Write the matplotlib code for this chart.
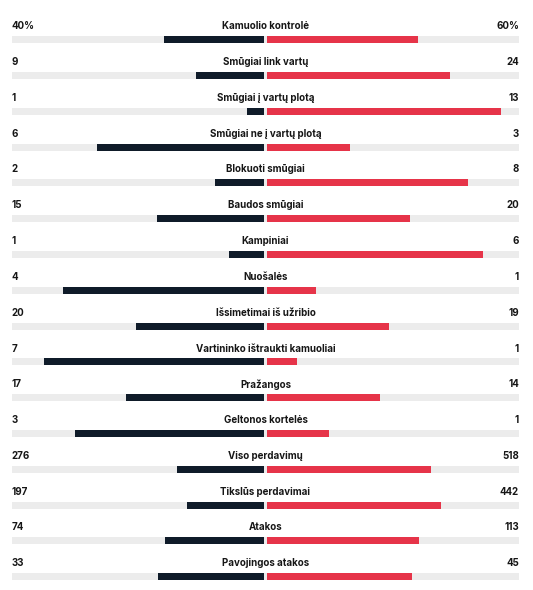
import matplotlib
matplotlib.use('Agg')
import matplotlib.pyplot as plt

labels = ['Kamuolio kontrolė', 'Smūgiai link vartų', 'Smūgiai į vartų plotą',
          'Smūgiai ne į vartų plotą', 'Blokuoti smūgiai', 'Baudos smūgiai',
          'Kampiniai', 'Nuošalės', 'Išsimetimai iš užribio',
          'Vartininko ištraukti kamuoliai', 'Pražangos', 'Geltonos kortelės',
          'Viso perdavimų', 'Tikslūs perdavimai', 'Atakos', 'Pavojingos atakos']
home = [40, 9, 1, 6, 2, 15, 1, 4, 20, 7, 17, 3, 276, 197, 74, 33]
away = [60, 24, 13, 3, 8, 20, 6, 1, 19, 1, 14, 1, 518, 442, 113, 45]
home_txt = ['40%'] + [str(v) for v in home[1:]]
away_txt = ['60%'] + [str(v) for v in away[1:]]

dark = '#0f1b29'
red = '#e63449'
grey = '#ececec'

W, H = 533, 590
fig = plt.figure(figsize=(W / 100, H / 100), dpi=100)
# x in [-1, 1] mapped onto the 12..519 px strip
ax = fig.add_axes([12 / W, 0, (519 - 12) / W, 1])
row0, step = 39.7, 35.8
ax.set_ylim((H - row0) / step, -row0 / step)
ax.set_xlim(-1, 1)
ax.axis('off')

plt.rcParams['font.family'] = ['Inter', 'DejaVu Sans']
bh = 7 / step
gap = 0.004
n = len(labels)
rows = list(range(n))

ax.barh(rows, [2] * n, left=-1, height=bh, color=grey)
for i in rows:
    tot = home[i] + away[i]
    ax.barh(i, -home[i] / tot + gap, left=-gap, height=bh, color=dark)
    ax.barh(i, away[i] / tot - gap, left=gap, height=bh, color=red)
    ty = i - 13.4 / step
    kw = dict(va='center', fontsize=7, fontweight='bold', color='#161616')
    ax.text(0, ty, labels[i], ha='center', **kw)
    ax.text(-1, ty, home_txt[i], ha='left', **kw)
    ax.text(1, ty, away_txt[i], ha='right', **kw)

fig.savefig('out.png', dpi=100, facecolor='white')
